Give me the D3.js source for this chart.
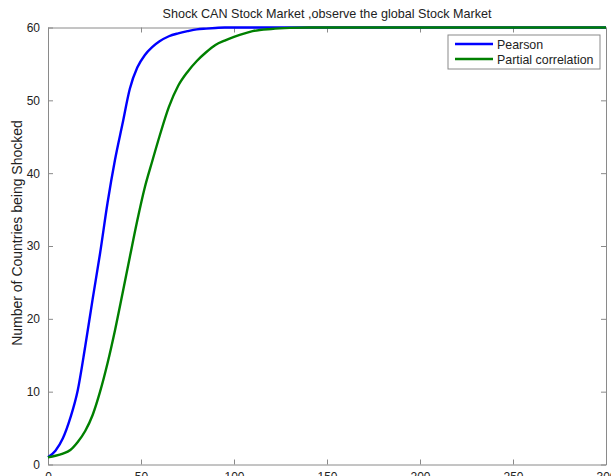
<!DOCTYPE html>
<html>
<head>
<meta charset="utf-8">
<script src="https://cdn.jsdelivr.net/npm/d3@7"></script>
<style>
  html, body { margin: 0; padding: 0; background: #fff; }
  svg { display: block; }
  text { font-family: Arial, "Liberation Sans", sans-serif; }
</style>
</head>
<body>
<svg id="chart" width="611" height="476"></svg>
<script>
// ---- data ----
const titleText = "Shock CAN Stock Market ,observe the global Stock Market";
const yLabelText = "Number of Countries being Shocked";
const seriesNames = ["Pearson", "Partial correlation"];
const seriesColors = ["#0000ff", "#008000"];

const xSteps = [0, 4, 8, 12, 16, 20, 24, 28, 32, 36, 40, 44, 48, 52, 56, 60, 65, 70, 75, 80, 85, 90, 95, 100, 110, 120, 130, 140, 300];
const pearson = [1.0, 1.9, 3.6, 6.4, 10.2, 16.2, 22.7, 29.0, 35.9, 41.8, 46.7, 51.6, 54.5, 56.2, 57.3, 58.1, 58.8, 59.2, 59.5, 59.75, 59.85, 59.93, 60, 60, 60, 60, 60, 60, 60];
const partial = [1.0, 1.2, 1.5, 2.0, 3.1, 4.6, 6.8, 10.0, 13.9, 18.4, 23.4, 28.5, 33.5, 38.0, 41.6, 45.1, 49.1, 52.0, 53.9, 55.4, 56.6, 57.6, 58.2, 58.7, 59.5, 59.8, 59.95, 60, 60];

const xTicks = [0, 50, 100, 150, 200, 250, 300];
const yTicks = [0, 10, 20, 30, 40, 50, 60];

// ---- layout ----
const svg = d3.select("#chart");
const L = 48, R = 606, T = 27.5, B = 464.5;

const x = d3.scaleLinear().domain([0, 300]).range([L, R]);
const y = d3.scaleLinear().domain([0, 60]).range([B, T]);

const axisColor = "#8a8a8a";
const tickLen = 5;

// axes with inward ticks (MATLAB box style)
const xAxisB = d3.axisBottom(x).tickValues(xTicks).tickSizeInner(-tickLen).tickSizeOuter(0).tickPadding(8);
const xAxisT = d3.axisTop(x).tickValues(xTicks).tickSizeInner(-tickLen).tickSizeOuter(0).tickFormat("");
const yAxisL = d3.axisLeft(y).tickValues(yTicks).tickSizeInner(-tickLen).tickSizeOuter(0).tickPadding(8);
const yAxisR = d3.axisRight(y).tickValues(yTicks).tickSizeInner(-tickLen).tickSizeOuter(0).tickFormat("");

function styleAxis(g) {
  g.select(".domain").attr("stroke", axisColor).attr("stroke-width", 1);
  g.selectAll(".tick line").attr("stroke", axisColor).attr("stroke-width", 1);
  g.selectAll(".tick text").attr("fill", "#222").style("font-size", "12px").style("font-family", "Arial, 'Liberation Sans', sans-serif");
}

svg.append("g").attr("transform", `translate(0,${B})`).call(xAxisB).call(styleAxis);
svg.append("g").attr("transform", `translate(0,${T})`).call(xAxisT).call(styleAxis);
svg.append("g").attr("transform", `translate(${L},0)`).call(yAxisL).call(styleAxis);
svg.append("g").attr("transform", `translate(${R},0)`).call(yAxisR).call(styleAxis);

// lines
const allSeries = [pearson, partial];
const line = d3.line()
  .x((d, i) => x(xSteps[i]))
  .y(d => y(d))
  .curve(d3.curveMonotoneX);

allSeries.forEach((vals, k) => {
  svg.append("path")
    .datum(vals)
    .attr("fill", "none")
    .attr("stroke", seriesColors[k])
    .attr("stroke-width", 2.4)
    .attr("stroke-linejoin", "round")
    .attr("d", line);
});

// title
svg.append("text")
  .attr("x", (L + R) / 2)
  .attr("y", 17.5)
  .attr("text-anchor", "middle")
  .attr("fill", "#222")
  .style("font-size", "12.6px")
  .text(titleText);

// y label
svg.append("text")
  .attr("transform", `translate(22,233) rotate(-90)`)
  .attr("text-anchor", "middle")
  .attr("fill", "#222")
  .style("font-size", "14px")
  .text(yLabelText);

// legend
const lg = svg.append("g");
const lgX = 448, lgY = 35, lgW = 152, lgH = 34;
lg.append("rect")
  .attr("x", lgX).attr("y", lgY).attr("width", lgW).attr("height", lgH)
  .attr("fill", "#fff").attr("stroke", axisColor).attr("stroke-width", 1);
seriesNames.forEach((name, k) => {
  const cy = lgY + 9 + k * 15;
  lg.append("line")
    .attr("x1", lgX + 7).attr("x2", lgX + 45)
    .attr("y1", cy).attr("y2", cy)
    .attr("stroke", seriesColors[k]).attr("stroke-width", 2.4);
  lg.append("text")
    .attr("x", lgX + 49).attr("y", cy + 4.5)
    .attr("fill", "#222")
    .style("font-size", "12.4px")
    .text(name);
});
</script>
</body>
</html>
